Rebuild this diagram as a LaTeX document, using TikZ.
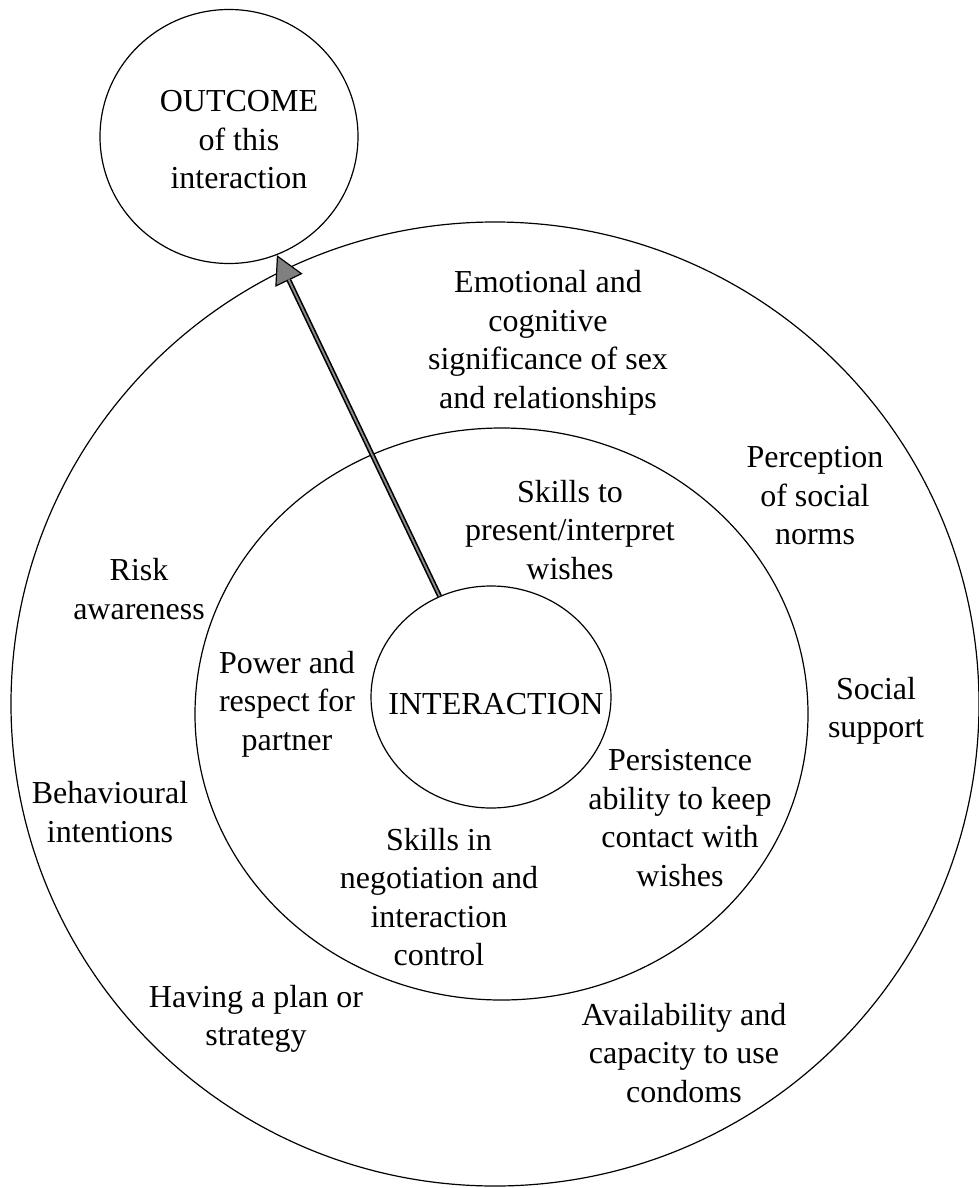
\documentclass[tikz,border=0pt]{standalone}
\usepackage{fontspec}
\setmainfont{Liberation Serif}
\usetikzlibrary{shapes.geometric,arrows.meta}
\begin{document}
\begin{tikzpicture}[x=1pt,y=-1pt,
  ring/.style={draw=black, line width=1.2pt, ellipse, inner sep=0pt},
  lbl/.style={align=center, inner sep=0pt, font=\fontsize{32}{38.5}\selectfont},
  shaft/.style={draw=black, line width=5pt},
  shaftcore/.style={draw=black!45, line width=1.8pt, shorten >=27pt},
  bigtip/.style={-{Triangle[length=28pt,width=30pt,fill=black!50,line width=1.2pt]}}
]
\fill[white] (0,0) rectangle (978,1188);
\useasboundingbox (0,0) rectangle (978,1188);

% concentric rings and the outcome circle
\node[ring, minimum width=968pt, minimum height=964pt] (outer) at (495,704) {};
\node[ring, minimum width=613pt, minimum height=572pt] (middle) at (501.5,714) {};
\node[ring, minimum width=240pt, minimum height=222pt] (inner) at (491,697) {};
\node[ring, minimum width=258pt, minimum height=254pt] (outcome) at (229,136.5) {};

% labels
\node[lbl] (outcometext) at (239,140) {OUTCOME\\of this\\interaction};
\node[lbl] (interaction) at (496,704) {INTERACTION};

\node[lbl] (emotional) at (548,343) {Emotional and\\cognitive\\significance of sex\\and relationships};
\node[lbl] (perception) at (815,496) {Perception\\of social\\norms};
\node[lbl] (risk) at (139,589) {Risk\\awareness};
\node[lbl] (social) at (876,711) {Social\\support};
\node[lbl] (behavioural) at (110,812) {Behavioural\\intentions};
\node[lbl] (plan) at (256,1019) {Having a plan or\\strategy};
\node[lbl] (condoms) at (684,1053) {Availability and\\capacity to use\\condoms};

\node[lbl] (present) at (570,530) {Skills to\\present/interpret\\wishes};
\node[lbl] (power) at (287,704) {Power and\\respect for\\partner};
\node[lbl] (persistence) at (680,818) {Persistence\\ability to keep\\contact with\\wishes};
\node[lbl] (negotiation) at (439,897) {Skills in\\negotiation and\\interaction\\control};

% arrow from the interaction to its outcome
\draw[shaft, bigtip] (inner.117) -- (outcome.-68);
\draw[shaftcore] (inner.117) -- (outcome.-68);
\end{tikzpicture}
\end{document}
